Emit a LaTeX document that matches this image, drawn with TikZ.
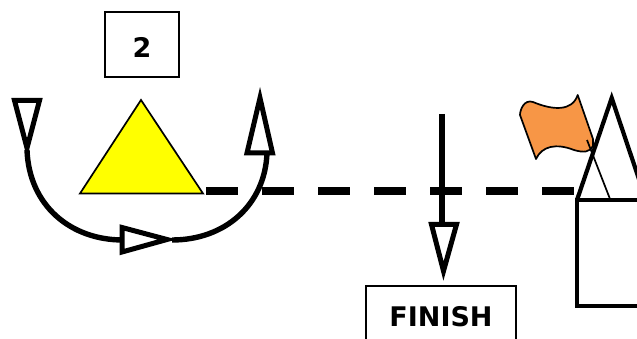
\documentclass[tikz,border=0pt]{standalone}
\usepackage{fontspec}
\setmainfont{DejaVu Sans}
\definecolor{flagorange}{HTML}{F79646}
\definecolor{triyellow}{RGB}{255,255,0}
\tikzset{
  labelbox/.style={draw=black,line width=1.8pt,fill=white,inner sep=0pt,font=\bfseries\fontsize{27}{30}\selectfont},
  thick curve/.style={draw=black,line width=5.4pt},
  hollow head/.style={draw=black,line width=5pt,fill=white,miter limit=20,line join=miter},
  thick dash/.style={draw=black,line width=8.5pt,dash pattern=on 32pt off 24pt},
  house line/.style={draw=black,line width=4.2pt,line join=miter},
  thin line/.style={draw=black,line width=1.7pt}
}
\begin{document}
\begin{tikzpicture}[x=1pt,y=-1pt]
\useasboundingbox (0,0) rectangle (637,339);
\clip (0,0) rectangle (637,339);
\fill[white] (0,0) rectangle (637,339);
% number box
\node[labelbox,minimum width=74pt,minimum height=65pt,text height=27pt,text depth=0pt] (numbox) at (142,44.5) {2};
% yellow triangle
\coordinate (triA) at (141,100);
\coordinate (triL) at (80,193.5);
\coordinate (triR) at (203,193.5);
\draw[fill=triyellow,draw=black,line width=1.7pt,line join=miter] (triA) -- (triL) -- (triR) -- cycle;
% dashed line
\coordinate (dashA) at (206,191);
\coordinate (dashB) at (574,191);
\draw[thick dash] (dashA) -- (dashB);
% curved route
\coordinate (c1) at (27,150);
\coordinate (c2) at (123,240);
\coordinate (c3) at (172,240);
\coordinate (c4) at (267,153);
\draw[thick curve] (c1) .. controls (29,205) and (70,240) .. (c2);
\draw[thick curve] (c3) .. controls (225,240) and (265,205) .. (c4);
% arrow heads
\draw[hollow head] (14.5,100.5) -- (39.5,100.5) -- (27,148) -- cycle;
\draw[hollow head] (122,227.5) -- (122,252) -- (167,239.5) -- cycle;
\draw[hollow head] (260,98) -- (247,153) -- (272.5,153) -- cycle;
% down arrow
\coordinate (downA) at (442,114);
\coordinate (downB) at (442,225);
\draw[draw=black,line width=5.4pt] (downA) -- (downB);
\draw[hollow head] (431.5,224.5) -- (456.5,224.5) -- (443.5,271) -- cycle;
% finish box
\node[labelbox,minimum width=150pt,minimum height=62pt] (finish) at (441,317) {FINISH};
% flag
\draw[fill=flagorange,draw=black,line width=1.7pt,line join=round]
  (577.7,95) .. controls (572,112) and (552,110) .. (533,102)
  .. controls (524,99) and (520,110) .. (520,115)
  -- (536,159)
  .. controls (542,146) and (556,143) .. (574,150)
  .. controls (584,153) and (590,152) .. (593,146)
  -- (593,139) -- cycle;
% house
\draw[thin line] (587,140) -- (610,199);
\draw[house line] (577,200) rectangle (660,306);
\draw[house line] (577,200) -- (611.7,98) -- (646,200);
\end{tikzpicture}
\end{document}
